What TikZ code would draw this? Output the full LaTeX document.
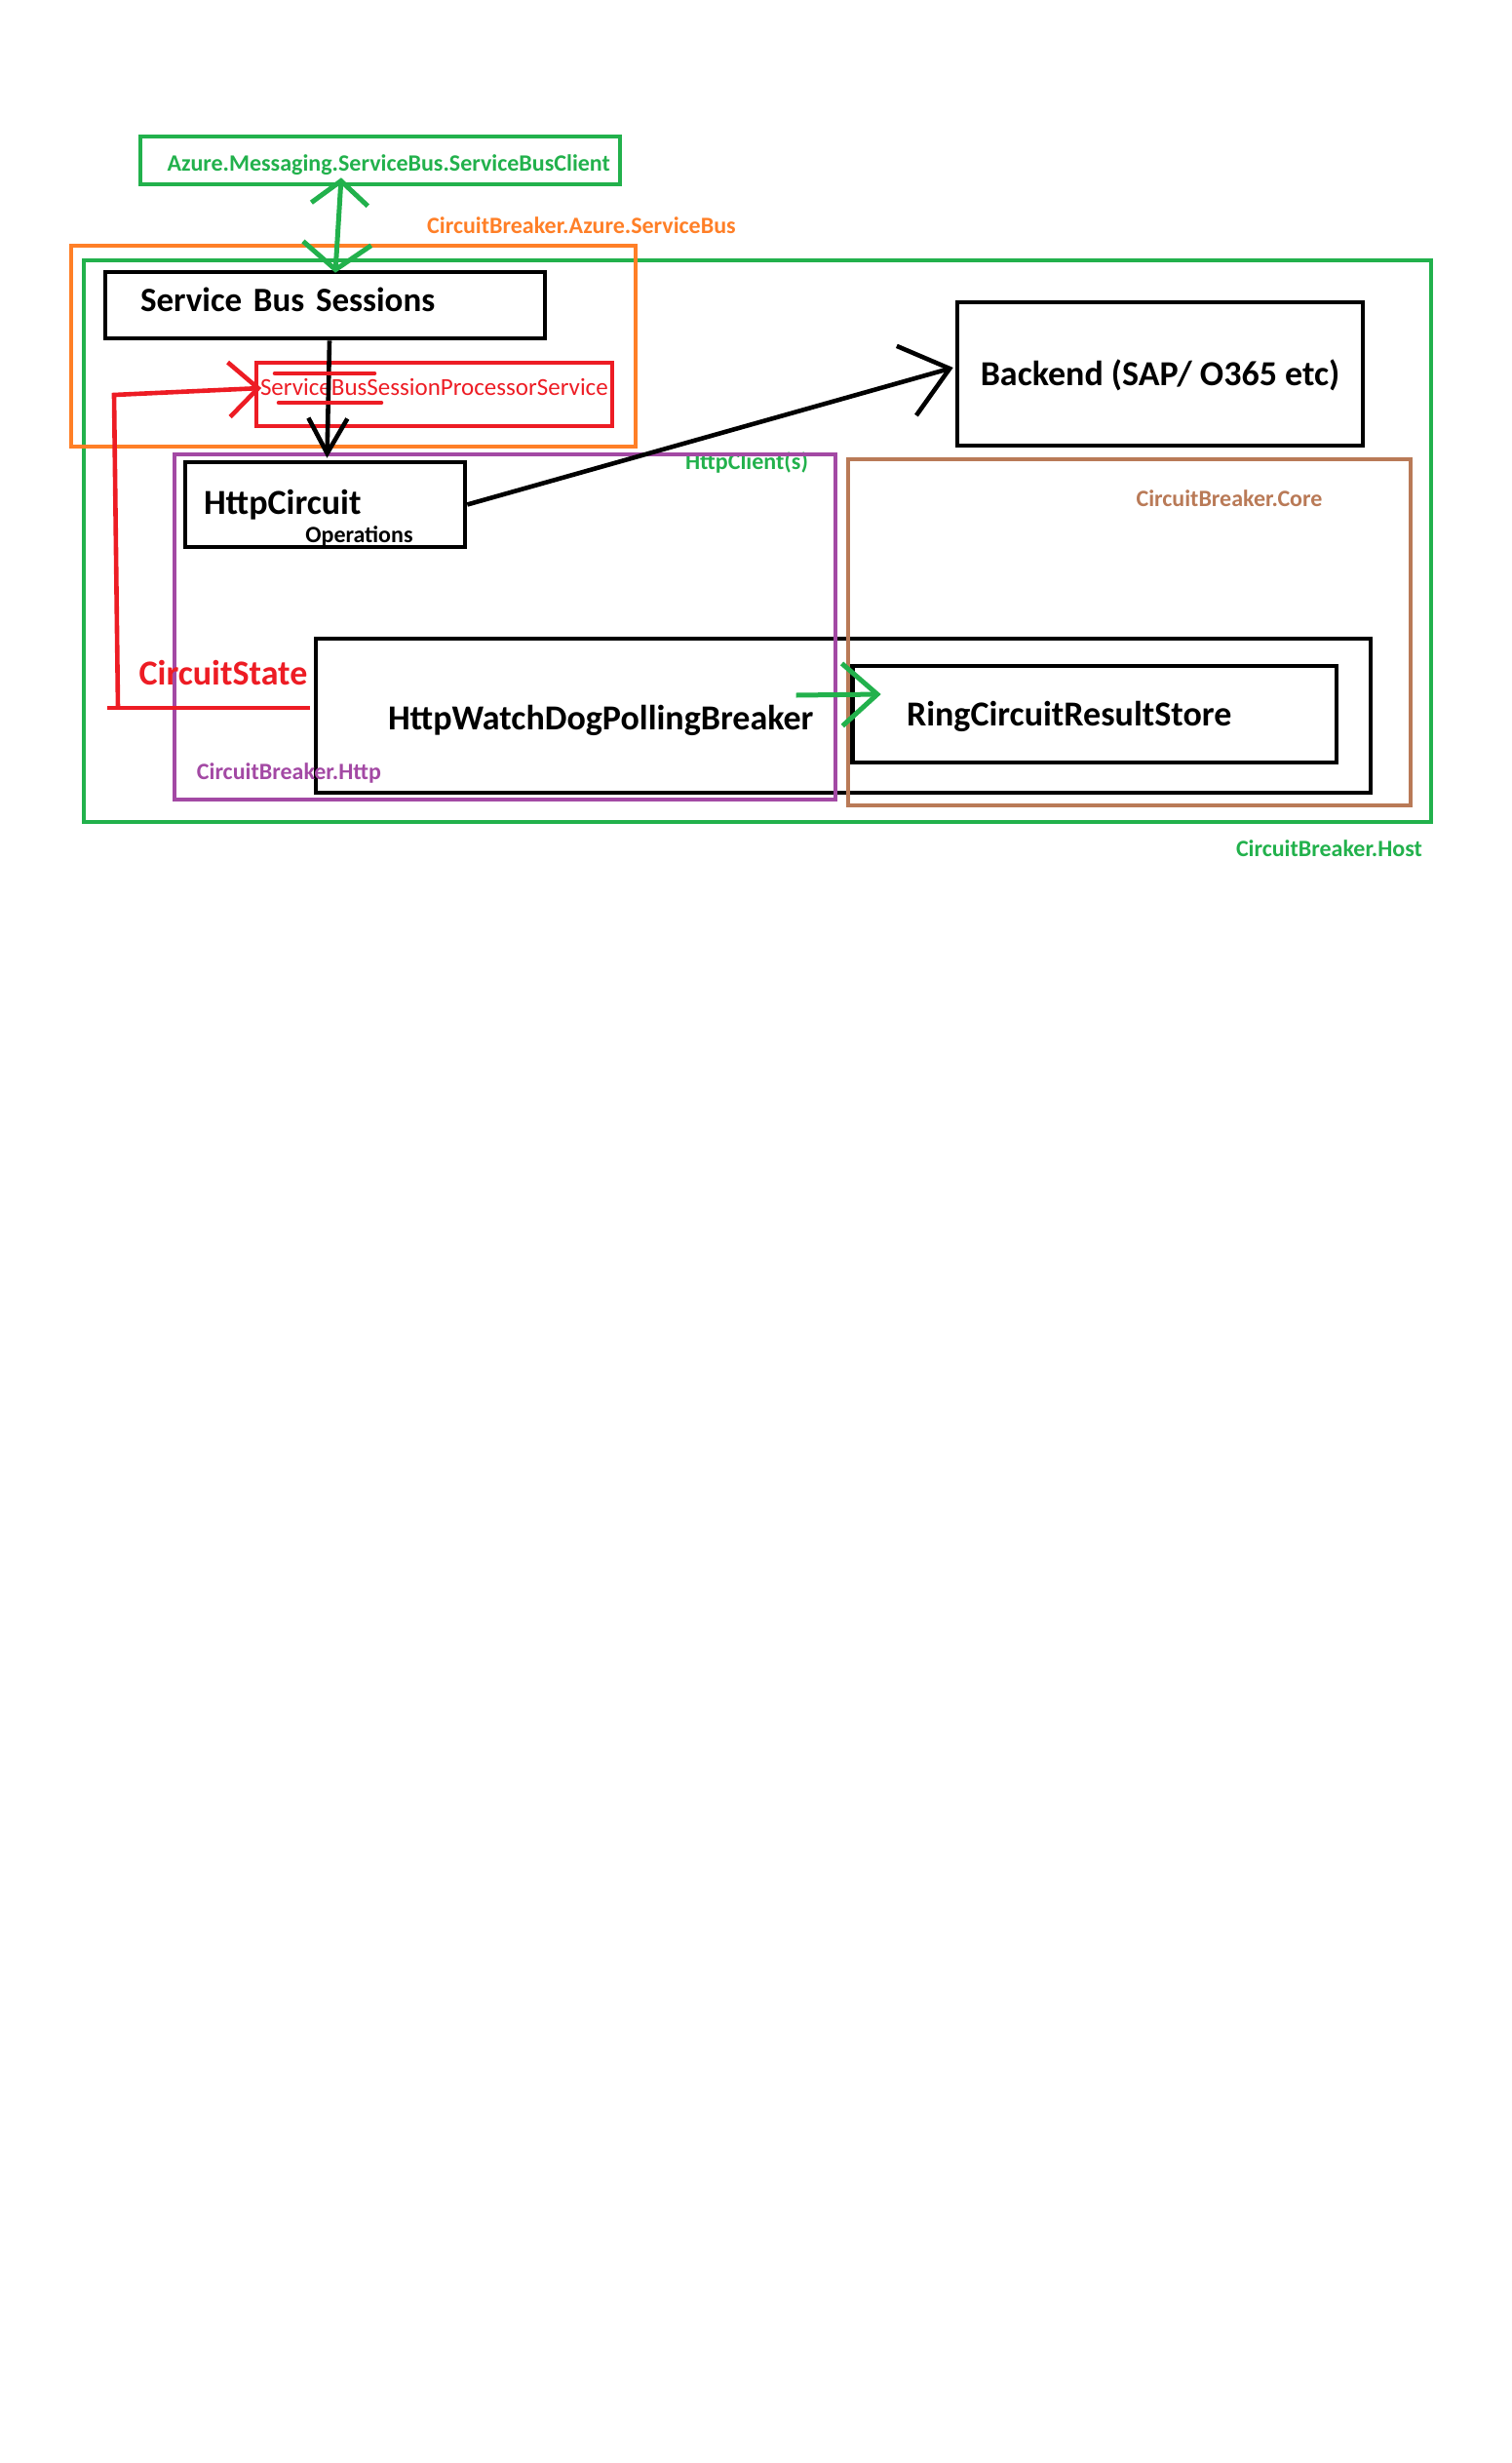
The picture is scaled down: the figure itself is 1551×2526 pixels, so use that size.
\documentclass[tikz,border=0pt]{standalone}
\usepackage{fontspec}
\setmainfont{Carlito}
\usetikzlibrary{arrows.meta,calc}
\definecolor{pgreen}{HTML}{22B14C}
\definecolor{porange}{HTML}{FF7F27}
\definecolor{pred}{HTML}{ED1C24}
\definecolor{ppurple}{HTML}{A349A4}
\definecolor{pbrown}{HTML}{B97A57}
\tikzset{
	box/.style={draw,line width=2.3pt,inner ysep=0pt,font=\bfseries\fontsize{18}{21}\selectfont},
	lbl/.style={inner sep=0pt,font=\bfseries\fontsize{12}{14}\selectfont},
	frame/.style={line width=2.3pt},
	conn/.style={line width=2.3pt},
}
\begin{document}
\begin{tikzpicture}[x=0.5pt,y=-0.5pt]
	\useasboundingbox (0,0) rectangle (1551,2526);
	% frames
	\draw[frame,pgreen] (86,267) rectangle (1468,843);
	\draw[frame,porange] (73,252) rectangle (652,458);
	\node[lbl,text=porange] (Lsb) at (596.5,231) {CircuitBreaker.Azure.ServiceBus};
	\node[lbl,text=pgreen] (Lhost) at (1363.5,870) {CircuitBreaker.Host};
	% boxes
	\node[box,draw=pgreen,text=pgreen,font=\bfseries\fontsize{12}{14}\selectfont,minimum width=246pt,minimum height=24.5pt,inner xsep=5pt,text width=236pt,text height=13.5pt,align=right] (SBC) at (390,164.5) {Azure.Messaging.ServiceBus.ServiceBusClient};
	\node[box,font=\bfseries\fontsize{17.5}{20}\selectfont,minimum width=225.5pt,minimum height=34pt,inner xsep=18pt,text width=189.5pt,text depth=6pt,align=left] (SBS) at (333.5,313) {Service Bus Sessions};
	\node[box,draw=pred,text=pred,line width=1.8pt,font=\fontsize{12.5}{14}\selectfont,minimum width=182.5pt,minimum height=32.5pt,inner xsep=2pt,text width=178.5pt,text depth=8pt,align=left] (SBP) at (445.5,404.5) {ServiceBusSessionProcessorService};
	\node[box,minimum width=143.5pt,minimum height=43.5pt,inner xsep=9.5pt,text width=124.5pt,align=left] (HC) at (333.5,517.5) {HttpCircuit};
	\node[lbl] (HCop) at (368.5,550) {Operations};
	\node[box,minimum width=208pt,minimum height=73.5pt,text height=15pt] (BE) at (1190,383.5) {Backend (SAP/ O365 etc)};
	\node[box,minimum width=541pt,minimum height=79pt,inner xsep=37pt,text width=467pt,text height=18pt,align=left] (WD) at (865,734) {HttpWatchDogPollingBreaker};
	\node[box,minimum width=248.25pt,minimum height=49.5pt,inner xsep=27.75pt,text width=192.75pt,text height=15pt,align=left] (RS) at (1122.75,732.5) {RingCircuitResultStore};
	\node[lbl,text=pgreen] (Lhc) at (766,474) {HttpClient(s)};
	\draw[frame,ppurple,line width=2pt] (179,466) rectangle (857,820);
	\draw[frame,pbrown] (870,471) rectangle (1447,826);
	\node[lbl,text=ppurple] (Lhttp) at (296.5,793) {CircuitBreaker.Http};
	\node[lbl,text=pbrown] (Lcore) at (1261,511) {CircuitBreaker.Core};
	\node[box,draw=none,text=pred] (CS) at (229,690) {CircuitState};
	% connectors
	\draw[conn,pgreen,line width=2.5pt,{Straight Barb[length=12pt,width=29pt]}-{Straight Barb[length=13.5pt,width=35pt]}] ($(SBC.south)+(-40,-9)$) -- ($(SBS.north)+(10.5,3)$);
	\draw[conn,-{Straight Barb[length=18pt,width=20pt]}] ($(SBS.south)+(4.5,0)$) -- ($(HC.north)+(2,-2)$);
	\draw[conn,-{Straight Barb[length=23pt,width=37pt]}] (HC.east) -- ($(BE.west)+(-2,-6.5)$);
	\draw[conn,pgreen,line width=2.5pt,-{Straight Barb[length=18pt,width=32pt]}] ($(RS.west)+(-55.5,-19.5)$) -- ($(RS.west)+(31.5,-20.5)$);
	\coordinate (cs0) at (110,726);
	\coordinate (cs1) at (121,726);
	\coordinate (cs2) at (117,405);
	\draw[conn,pred] ($(WD.west)+(-4,-8)$) -- (cs0);
	\draw[conn,pred,-{Straight Barb[length=15pt,width=28pt]}] (cs1) -- (cs2) -- ($(SBP.west)+(7,-6.5)$);
	\draw[conn,pred,line cap=round] (282,383) -- (384,383);
	\draw[conn,pred,line cap=round] (286,413) -- (391,413);
\end{tikzpicture}
\end{document}
